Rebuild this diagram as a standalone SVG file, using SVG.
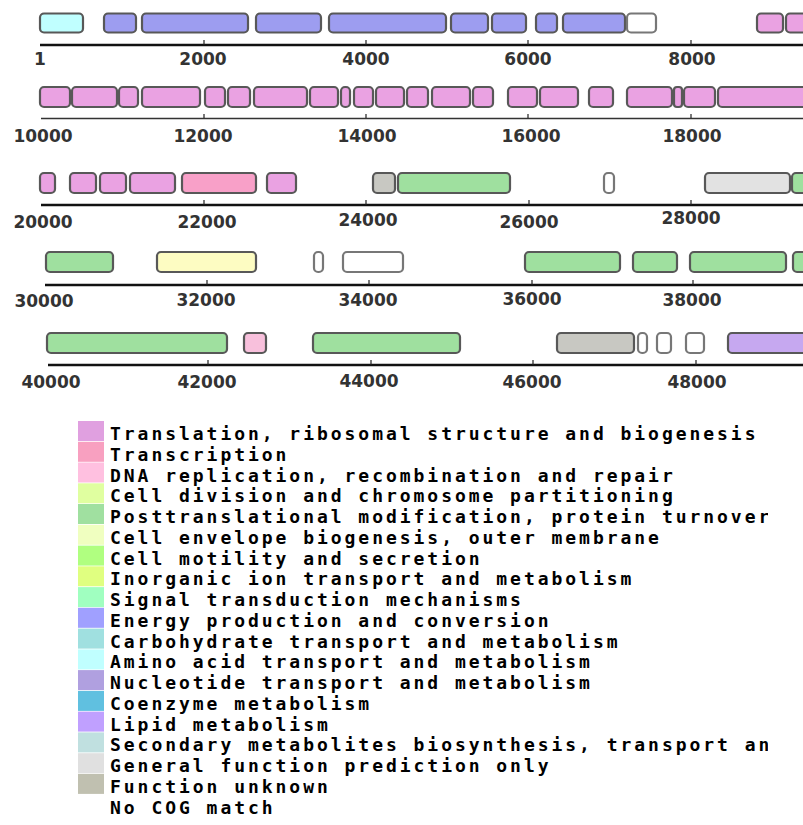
<svg xmlns="http://www.w3.org/2000/svg" width="803" height="825" viewBox="0 0 803 825">
<style>
.g{stroke:#585858;stroke-width:2.2}
.en{fill:#9d9df0}.aa{fill:#c0ffff}.wh{fill:#ffffff;stroke:#777}.tl{fill:#eaa2e2}.tc{fill:#f8a0c8}
.pt{fill:#9fe09f}.un{fill:#c8c8c2}.gf{fill:#e2e2e2}.ce{fill:#fdfcc2}.dn{fill:#f8c0dc}.lp{fill:#c6a8f0}
.ax{stroke:#111;stroke-width:2.4}
.tk{stroke:#222;stroke-width:1.2}
.lb{font-family:"DejaVu Sans",sans-serif;font-weight:bold;font-size:17px;fill:#333;text-anchor:middle}
.lg{font-family:"DejaVu Sans Mono","Liberation Mono",monospace;font-weight:bold;font-size:18px;letter-spacing:2.96px;fill:#000}
</style>
<defs><clipPath id="cl"><rect x="0" y="400" width="768" height="425"/></clipPath></defs>
<g id="row1">
<g class="g">
<rect class="aa" x="40" y="13.5" width="43" height="19" rx="4"/>
<rect class="en" x="104" y="13.5" width="32" height="19" rx="4"/>
<rect class="en" x="142" y="13.5" width="106" height="19" rx="4"/>
<rect class="en" x="256" y="13.5" width="65" height="19" rx="4"/>
<rect class="en" x="329" y="13.5" width="117" height="19" rx="4"/>
<rect class="en" x="451" y="13.5" width="37" height="19" rx="4"/>
<rect class="en" x="492" y="13.5" width="34" height="19" rx="4"/>
<rect class="en" x="536" y="13.5" width="21" height="19" rx="4"/>
<rect class="en" x="563" y="13.5" width="62" height="19" rx="4"/>
<rect class="wh" x="627" y="13.5" width="29" height="19" rx="4"/>
<rect class="tl" x="757" y="13.5" width="26" height="19" rx="4"/>
<rect class="tl" x="786" y="13.5" width="24" height="19" rx="4"/>
</g>
<line class="ax" x1="40" y1="45" x2="803" y2="45"/>
<g class="tk"><line x1="204" y1="40" x2="204" y2="45"/><line x1="366" y1="40" x2="366" y2="45"/><line x1="528" y1="40" x2="528" y2="45"/><line x1="691" y1="40" x2="691" y2="45"/></g>
<text class="lb" x="40" y="65">1</text><text class="lb" x="203" y="65">2000</text><text class="lb" x="366" y="65">4000</text><text class="lb" x="528" y="65">6000</text><text class="lb" x="692" y="65">8000</text>
</g>
<g id="row2">
<g class="g">
<rect class="tl" x="40" y="87" width="30" height="20" rx="4"/>
<rect class="tl" x="72" y="87" width="45" height="20" rx="4"/>
<rect class="tl" x="119" y="87" width="19" height="20" rx="4"/>
<rect class="tl" x="142" y="87" width="58" height="20" rx="4"/>
<rect class="tl" x="205" y="87" width="20" height="20" rx="4"/>
<rect class="tl" x="228" y="87" width="22" height="20" rx="4"/>
<rect class="tl" x="254" y="87" width="53" height="20" rx="4"/>
<rect class="tl" x="310" y="87" width="28" height="20" rx="4"/>
<rect class="tl" x="341" y="87" width="9" height="20" rx="4"/>
<rect class="tl" x="354" y="87" width="19" height="20" rx="4"/>
<rect class="tl" x="376" y="87" width="28" height="20" rx="4"/>
<rect class="tl" x="407" y="87" width="21" height="20" rx="4"/>
<rect class="tl" x="432" y="87" width="38" height="20" rx="4"/>
<rect class="tl" x="473" y="87" width="20" height="20" rx="4"/>
<rect class="tl" x="508" y="87" width="29" height="20" rx="4"/>
<rect class="tl" x="540" y="87" width="38" height="20" rx="4"/>
<rect class="tl" x="589" y="87" width="24" height="20" rx="4"/>
<rect class="tl" x="627" y="87" width="45" height="20" rx="4"/>
<rect class="tl" x="674" y="87" width="8" height="20" rx="3"/>
<rect class="tl" x="684" y="87" width="31" height="20" rx="4"/>
<rect class="tl" x="718" y="87" width="92" height="20" rx="4"/>
</g>
<line class="ax" x1="41" y1="118.5" x2="803" y2="118.5" style="stroke:#333;stroke-width:1.6"/>
<g class="tk"><line x1="204" y1="114" x2="204" y2="118"/><line x1="366" y1="114" x2="366" y2="118"/><line x1="528" y1="114" x2="528" y2="118"/><line x1="691" y1="114" x2="691" y2="118"/></g>
<text class="lb" x="43" y="142">10000</text><text class="lb" x="203" y="142">12000</text><text class="lb" x="367" y="142">14000</text><text class="lb" x="531" y="142">16000</text><text class="lb" x="692" y="142">18000</text>
</g>
<g id="row3">
<g class="g">
<rect class="tl" x="40" y="173" width="15" height="20" rx="4"/>
<rect class="tl" x="70" y="173" width="26" height="20" rx="4"/>
<rect class="tl" x="100" y="173" width="26" height="20" rx="4"/>
<rect class="tl" x="130" y="173" width="45" height="20" rx="4"/>
<rect class="tc" x="182" y="173" width="74" height="20" rx="4"/>
<rect class="tl" x="267" y="173" width="29" height="20" rx="4"/>
<rect class="un" x="373" y="173" width="22" height="20" rx="4"/>
<rect class="pt" x="398" y="173" width="112" height="20" rx="4"/>
<rect class="wh" x="604" y="173" width="10" height="20" rx="4"/>
<rect class="gf" x="705" y="173" width="85" height="20" rx="4"/>
<rect class="pt" x="792" y="173" width="18" height="20" rx="4"/>
</g>
<line class="ax" x1="41" y1="205" x2="803" y2="205"/>
<g class="tk"><line x1="204" y1="200" x2="204" y2="205"/><line x1="366" y1="200" x2="366" y2="205"/><line x1="529" y1="200" x2="529" y2="205"/><line x1="691" y1="200" x2="691" y2="205"/></g>
<text class="lb" x="43" y="228">20000</text><text class="lb" x="207" y="228">22000</text><text class="lb" x="368" y="226">24000</text><text class="lb" x="529" y="228">26000</text><text class="lb" x="691" y="224">28000</text>
</g>
<g id="row4">
<g class="g">
<rect class="pt" x="46" y="252" width="67" height="20" rx="4"/>
<rect class="ce" x="157" y="252" width="99" height="20" rx="4"/>
<rect class="wh" x="314" y="252" width="9" height="20" rx="4"/>
<rect class="wh" x="343" y="252" width="60" height="20" rx="4"/>
<rect class="pt" x="525" y="252" width="95" height="20" rx="4"/>
<rect class="pt" x="633" y="252" width="44" height="20" rx="4"/>
<rect class="pt" x="690" y="252" width="96" height="20" rx="4"/>
<rect class="pt" x="793" y="252" width="17" height="20" rx="4"/>
</g>
<line class="ax" x1="45" y1="285" x2="803" y2="285"/>
<g class="tk"><line x1="207" y1="280" x2="207" y2="285"/><line x1="369" y1="280" x2="369" y2="285"/><line x1="532" y1="280" x2="532" y2="285"/><line x1="693" y1="280" x2="693" y2="285"/></g>
<text class="lb" x="44" y="307">30000</text><text class="lb" x="206" y="306">32000</text><text class="lb" x="368" y="306">34000</text><text class="lb" x="532" y="305">36000</text><text class="lb" x="692" y="306">38000</text>
</g>
<g id="row5">
<g class="g">
<rect class="pt" x="47" y="333" width="180" height="20" rx="4"/>
<rect class="dn" x="244" y="333" width="22" height="20" rx="4"/>
<rect class="pt" x="313" y="333" width="147" height="20" rx="4"/>
<rect class="un" x="557" y="333" width="77" height="20" rx="4"/>
<rect class="wh" x="638" y="333" width="9" height="20" rx="4"/>
<rect class="wh" x="657" y="333" width="14" height="20" rx="4"/>
<rect class="wh" x="686" y="333" width="18" height="20" rx="4"/>
<rect class="lp" x="728" y="333" width="82" height="20" rx="4"/>
</g>
<line class="ax" x1="48" y1="365" x2="803" y2="365"/>
<g class="tk"><line x1="208" y1="360" x2="208" y2="365"/><line x1="371" y1="360" x2="371" y2="365"/><line x1="533" y1="360" x2="533" y2="365"/><line x1="696" y1="360" x2="696" y2="365"/></g>
<text class="lb" x="51" y="388">40000</text><text class="lb" x="207" y="388">42000</text><text class="lb" x="369" y="387">44000</text><text class="lb" x="532" y="388">46000</text><text class="lb" x="697" y="388">48000</text>
</g>
<g id="legend">
<rect x="78" y="421" width="26" height="20" fill="#e0a0e0"/>
<rect x="78" y="441.8" width="26" height="20" fill="#f8a0c0"/>
<rect x="78" y="462.5" width="26" height="20" fill="#ffc0e0"/>
<rect x="78" y="483.3" width="26" height="20" fill="#e0ffa0"/>
<rect x="78" y="504" width="26" height="20" fill="#a0e0a0"/>
<rect x="78" y="524.8" width="26" height="20" fill="#f0ffc0"/>
<rect x="78" y="545.6" width="26" height="20" fill="#b0ff80"/>
<rect x="78" y="566.3" width="26" height="20" fill="#e0ff80"/>
<rect x="78" y="587.1" width="26" height="20" fill="#a0ffc0"/>
<rect x="78" y="607.8" width="26" height="20" fill="#a0a0ff"/>
<rect x="78" y="628.6" width="26" height="20" fill="#a0e0e0"/>
<rect x="78" y="649.4" width="26" height="20" fill="#c0ffff"/>
<rect x="78" y="670.1" width="26" height="20" fill="#b0a0e0"/>
<rect x="78" y="690.9" width="26" height="20" fill="#60c0e0"/>
<rect x="78" y="711.6" width="26" height="20" fill="#c0a0ff"/>
<rect x="78" y="732.4" width="26" height="20" fill="#c0e0e0"/>
<rect x="78" y="753.2" width="26" height="20" fill="#e0e0e0"/>
<rect x="78" y="773.9" width="26" height="20" fill="#c0c0b0"/>
<g class="lg" clip-path="url(#cl)">
<text x="110" y="440">Translation, ribosomal structure and biogenesis</text>
<text x="110" y="460.8">Transcription</text>
<text x="110" y="481.5">DNA replication, recombination and repair</text>
<text x="110" y="502.3">Cell division and chromosome partitioning</text>
<text x="110" y="523">Posttranslational modification, protein turnover</text>
<text x="110" y="543.8">Cell envelope biogenesis, outer membrane</text>
<text x="110" y="564.6">Cell motility and secretion</text>
<text x="110" y="585.3">Inorganic ion transport and metabolism</text>
<text x="110" y="606.1">Signal transduction mechanisms</text>
<text x="110" y="626.8">Energy production and conversion</text>
<text x="110" y="647.6">Carbohydrate transport and metabolism</text>
<text x="110" y="668.4">Amino acid transport and metabolism</text>
<text x="110" y="689.1">Nucleotide transport and metabolism</text>
<text x="110" y="709.9">Coenzyme metabolism</text>
<text x="110" y="730.6">Lipid metabolism</text>
<text x="110" y="751.4">Secondary metabolites biosynthesis, transport an</text>
<text x="110" y="772.2">General function prediction only</text>
<text x="110" y="792.9">Function unknown</text>
<text x="110" y="813.7">No COG match</text>
</g>
</g>
</svg>
